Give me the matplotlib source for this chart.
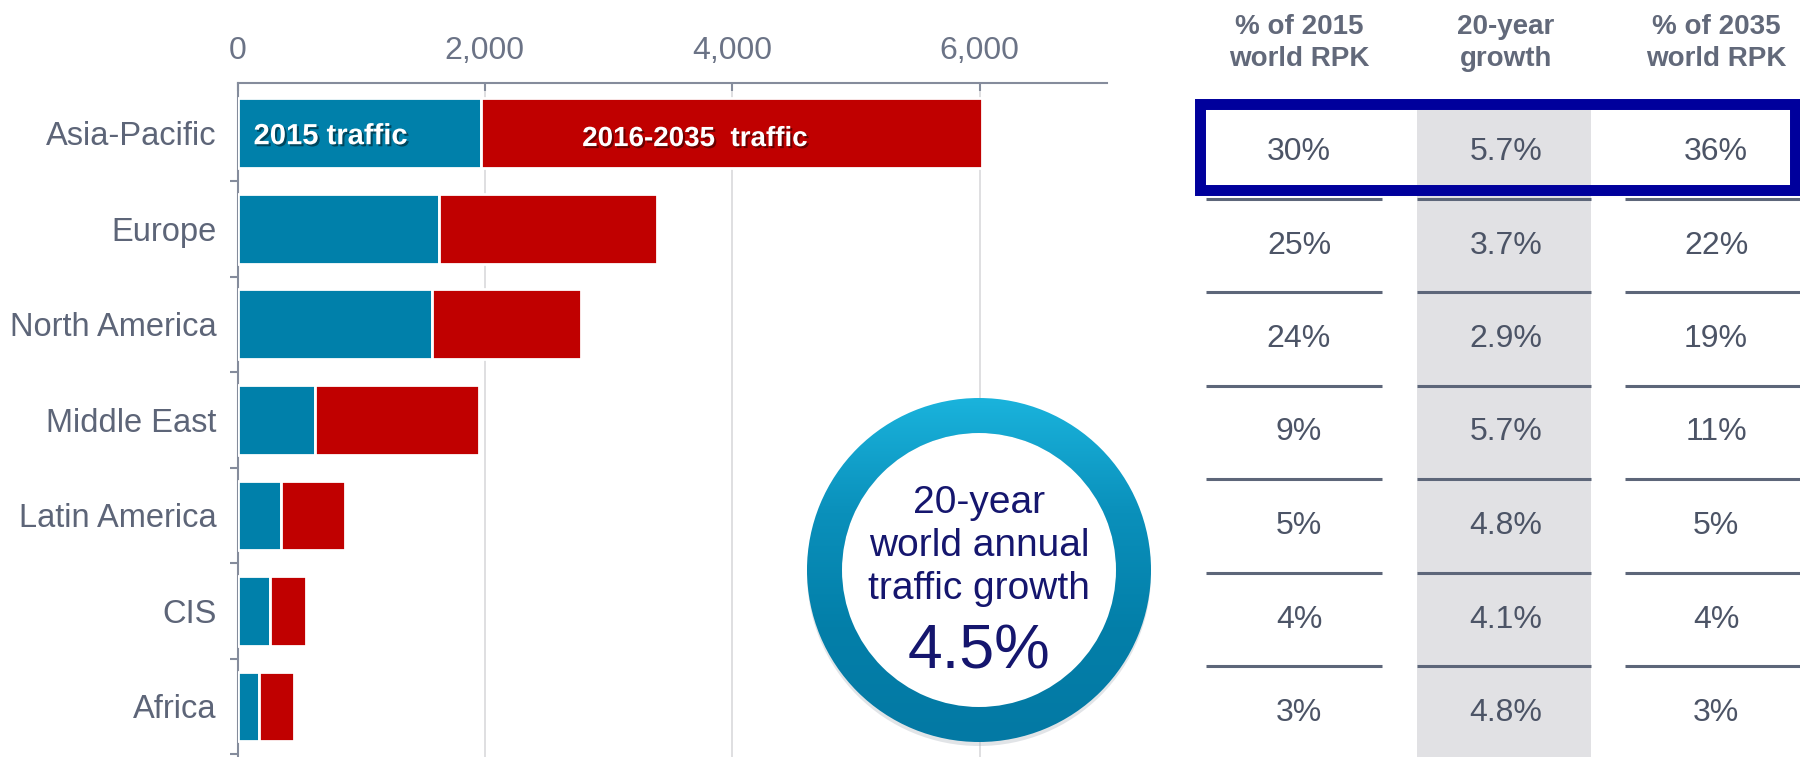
import matplotlib
matplotlib.use("Agg")
import matplotlib.pyplot as plt
import matplotlib.patheffects as pe
from matplotlib import font_manager
from matplotlib.colors import LinearSegmentedColormap
from matplotlib.patches import Wedge, Rectangle, Circle
import numpy as np

# data
regions = ["Asia-Pacific", "Europe", "North America", "Middle East",
           "Latin America", "CIS", "Africa"]
traffic_2015 = [1970, 1630, 1570, 630, 350, 260, 175]
traffic_2035 = [6020, 3390, 2780, 1950, 870, 555, 455]
x_ticks = [0, 2000, 4000, 6000]

share_2015 = [30, 25, 24, 9, 5, 4, 3]
growth_20yr = [5.7, 3.7, 2.9, 5.7, 4.8, 4.1, 4.8]
share_2035 = [36, 22, 19, 11, 5, 4, 3]
table_headers = ["% of 2015\nworld RPK", "20-year\ngrowth", "% of 2035\nworld RPK"]
world_growth = 4.5

BLUE = "#0080aa"
RED = "#c00000"
AXIS = "#858c9c"
GREY_TXT = "#5d6578"
NAVY = "#15166e"

names = {f.name for f in font_manager.fontManager.ttflist}
narrow = "Liberation Sans Narrow" if "Liberation Sans Narrow" in names else "Liberation Sans"
plt.rcParams["font.family"] = ["Liberation Sans", "DejaVu Sans"]

W, H = 1800, 757
fig = plt.figure(figsize=(W / 100, H / 100), dpi=100)

# ---- bar chart
ax = fig.add_axes([237.5 / W, 0, (1107 - 237.5) / W, 1 - 83 / H])
y = np.arange(len(regions))
added = np.array(traffic_2035) - np.array(traffic_2015)
ax.barh(y, traffic_2015, height=0.73, color=BLUE, edgecolor="white", linewidth=2, zorder=3)
ax.barh(y, added, left=traffic_2015, height=0.73, color=RED, edgecolor="white", linewidth=2, zorder=3)

ax.set_xlim(0, 7030)
ax.set_ylim(6.53, -0.527)
ax.xaxis.tick_top()
ax.set_xticks(x_ticks)
ax.set_xticklabels([f"{t:,}" for t in x_ticks], family=narrow)
ax.tick_params(axis="x", direction="in", length=6, width=1.5, color=AXIS,
               labelsize=23, pad=12, labelcolor="#6b7386")
ax.set_yticks(y)
ax.set_yticklabels(regions)
ax.tick_params(axis="y", length=0, pad=15, labelsize=23.5, labelcolor=GREY_TXT)
ax.set_yticks(y + 0.5, minor=True)
ax.tick_params(axis="y", which="minor", length=6, width=1.5, color=AXIS)
for s in ["right", "bottom"]:
    ax.spines[s].set_visible(False)
for s in ["top", "left"]:
    ax.spines[s].set_color(AXIS)
    ax.spines[s].set_linewidth(1.5)
ax.xaxis.grid(True, color="#d9d9dc", linewidth=1.2)
ax.set_axisbelow(True)

shadow = [pe.SimplePatchShadow(offset=(1.5, -1.5), shadow_rgbFace="black", alpha=0.45), pe.Normal()]
ax.text(130, 0.03, "2015 traffic", color="white", fontsize=21, fontweight="bold",
        family=narrow, va="center", ha="left", zorder=4, path_effects=shadow)
ax.text(3700, 0.06, "2016-2035  traffic", color="white", fontsize=20, fontweight="bold",
        family=narrow, va="center", ha="center", zorder=4, path_effects=shadow)

# ---- overlay in pixel coords for circle and table
ov = fig.add_axes([0, 0, 1, 1], zorder=5)
ov.set_xlim(0, W)
ov.set_ylim(H, 0)
ov.axis("off")
ov.patch.set_alpha(0)

cx, cy, r_out, ring_w = 979, 570, 172, 35
ov.add_patch(Wedge((cx, cy + 4), r_out, 0, 360, width=ring_w, color="#aab2bc",
                   alpha=0.35, lw=0, zorder=1))
ov.add_patch(Circle((cx, cy), r_out - ring_w, color="white", lw=0, zorder=1))
ring = Wedge((cx, cy), r_out, 0, 360, width=ring_w, facecolor="none", edgecolor="none")
ov.add_patch(ring)
cmap = LinearSegmentedColormap.from_list("ring", ["#1ab3dc", "#0a90bb", "#037fa9", "#0479a4"])
im = ov.imshow(np.linspace(0, 1, 256).reshape(-1, 1), cmap=cmap, aspect="auto", zorder=2,
               extent=(cx - r_out, cx + r_out, cy + r_out, cy - r_out), interpolation="bilinear")
im.set_clip_path(ring)
ov.set_xlim(0, W)
ov.set_ylim(H, 0)

for txt, yy in zip(["20-year", "world annual", "traffic growth"], [503, 546, 589]):
    ov.text(cx, yy, txt, ha="center", va="center", fontsize=28, color=NAVY, zorder=3)
ov.text(cx, 652, f"{world_growth}%", ha="center", va="center", fontsize=45, color=NAVY, zorder=3)

# table
col_x = [1299, 1506, 1716]
col_span = [(1206, 1382), (1417, 1591), (1625, 1800)]
row_y0, row_h = 152, 93.5
ov.add_patch(Rectangle((1417, 109), 1591 - 1417, H - 109, color="#e1e1e4", lw=0, zorder=1))
for j, head in enumerate(table_headers):
    ov.text(col_x[j], 43, head, ha="center", va="center", fontsize=20, fontweight="bold",
            color="#62697a", family=narrow, linespacing=1.25, zorder=3)
columns = [[f"{v}%" for v in share_2015], [f"{v}%" for v in growth_20yr],
           [f"{v}%" for v in share_2035]]
for j, col in enumerate(columns):
    for i, val in enumerate(col):
        yc = row_y0 + row_h * i
        ov.text(col_x[j], yc, val, ha="center", va="center", fontsize=23, color="#4c5466", zorder=3)
        yl = yc + row_h / 2
        if i < len(col) - 1 or j == 1:
            ov.plot(col_span[j], [yl, yl], color="#5d6679", lw=2.2, solid_capstyle="butt", zorder=2)
        else:
            ov.plot(col_span[j], [yl, yl], color="#d4d7dd", lw=2.2, solid_capstyle="butt", zorder=2)

ov.add_patch(Rectangle((1200, 104), 1795 - 1200, 86, fill=False, edgecolor="#00009c",
                       lw=7.9, joinstyle="miter", zorder=4))

fig.savefig("out.png", dpi=100, facecolor="white")
